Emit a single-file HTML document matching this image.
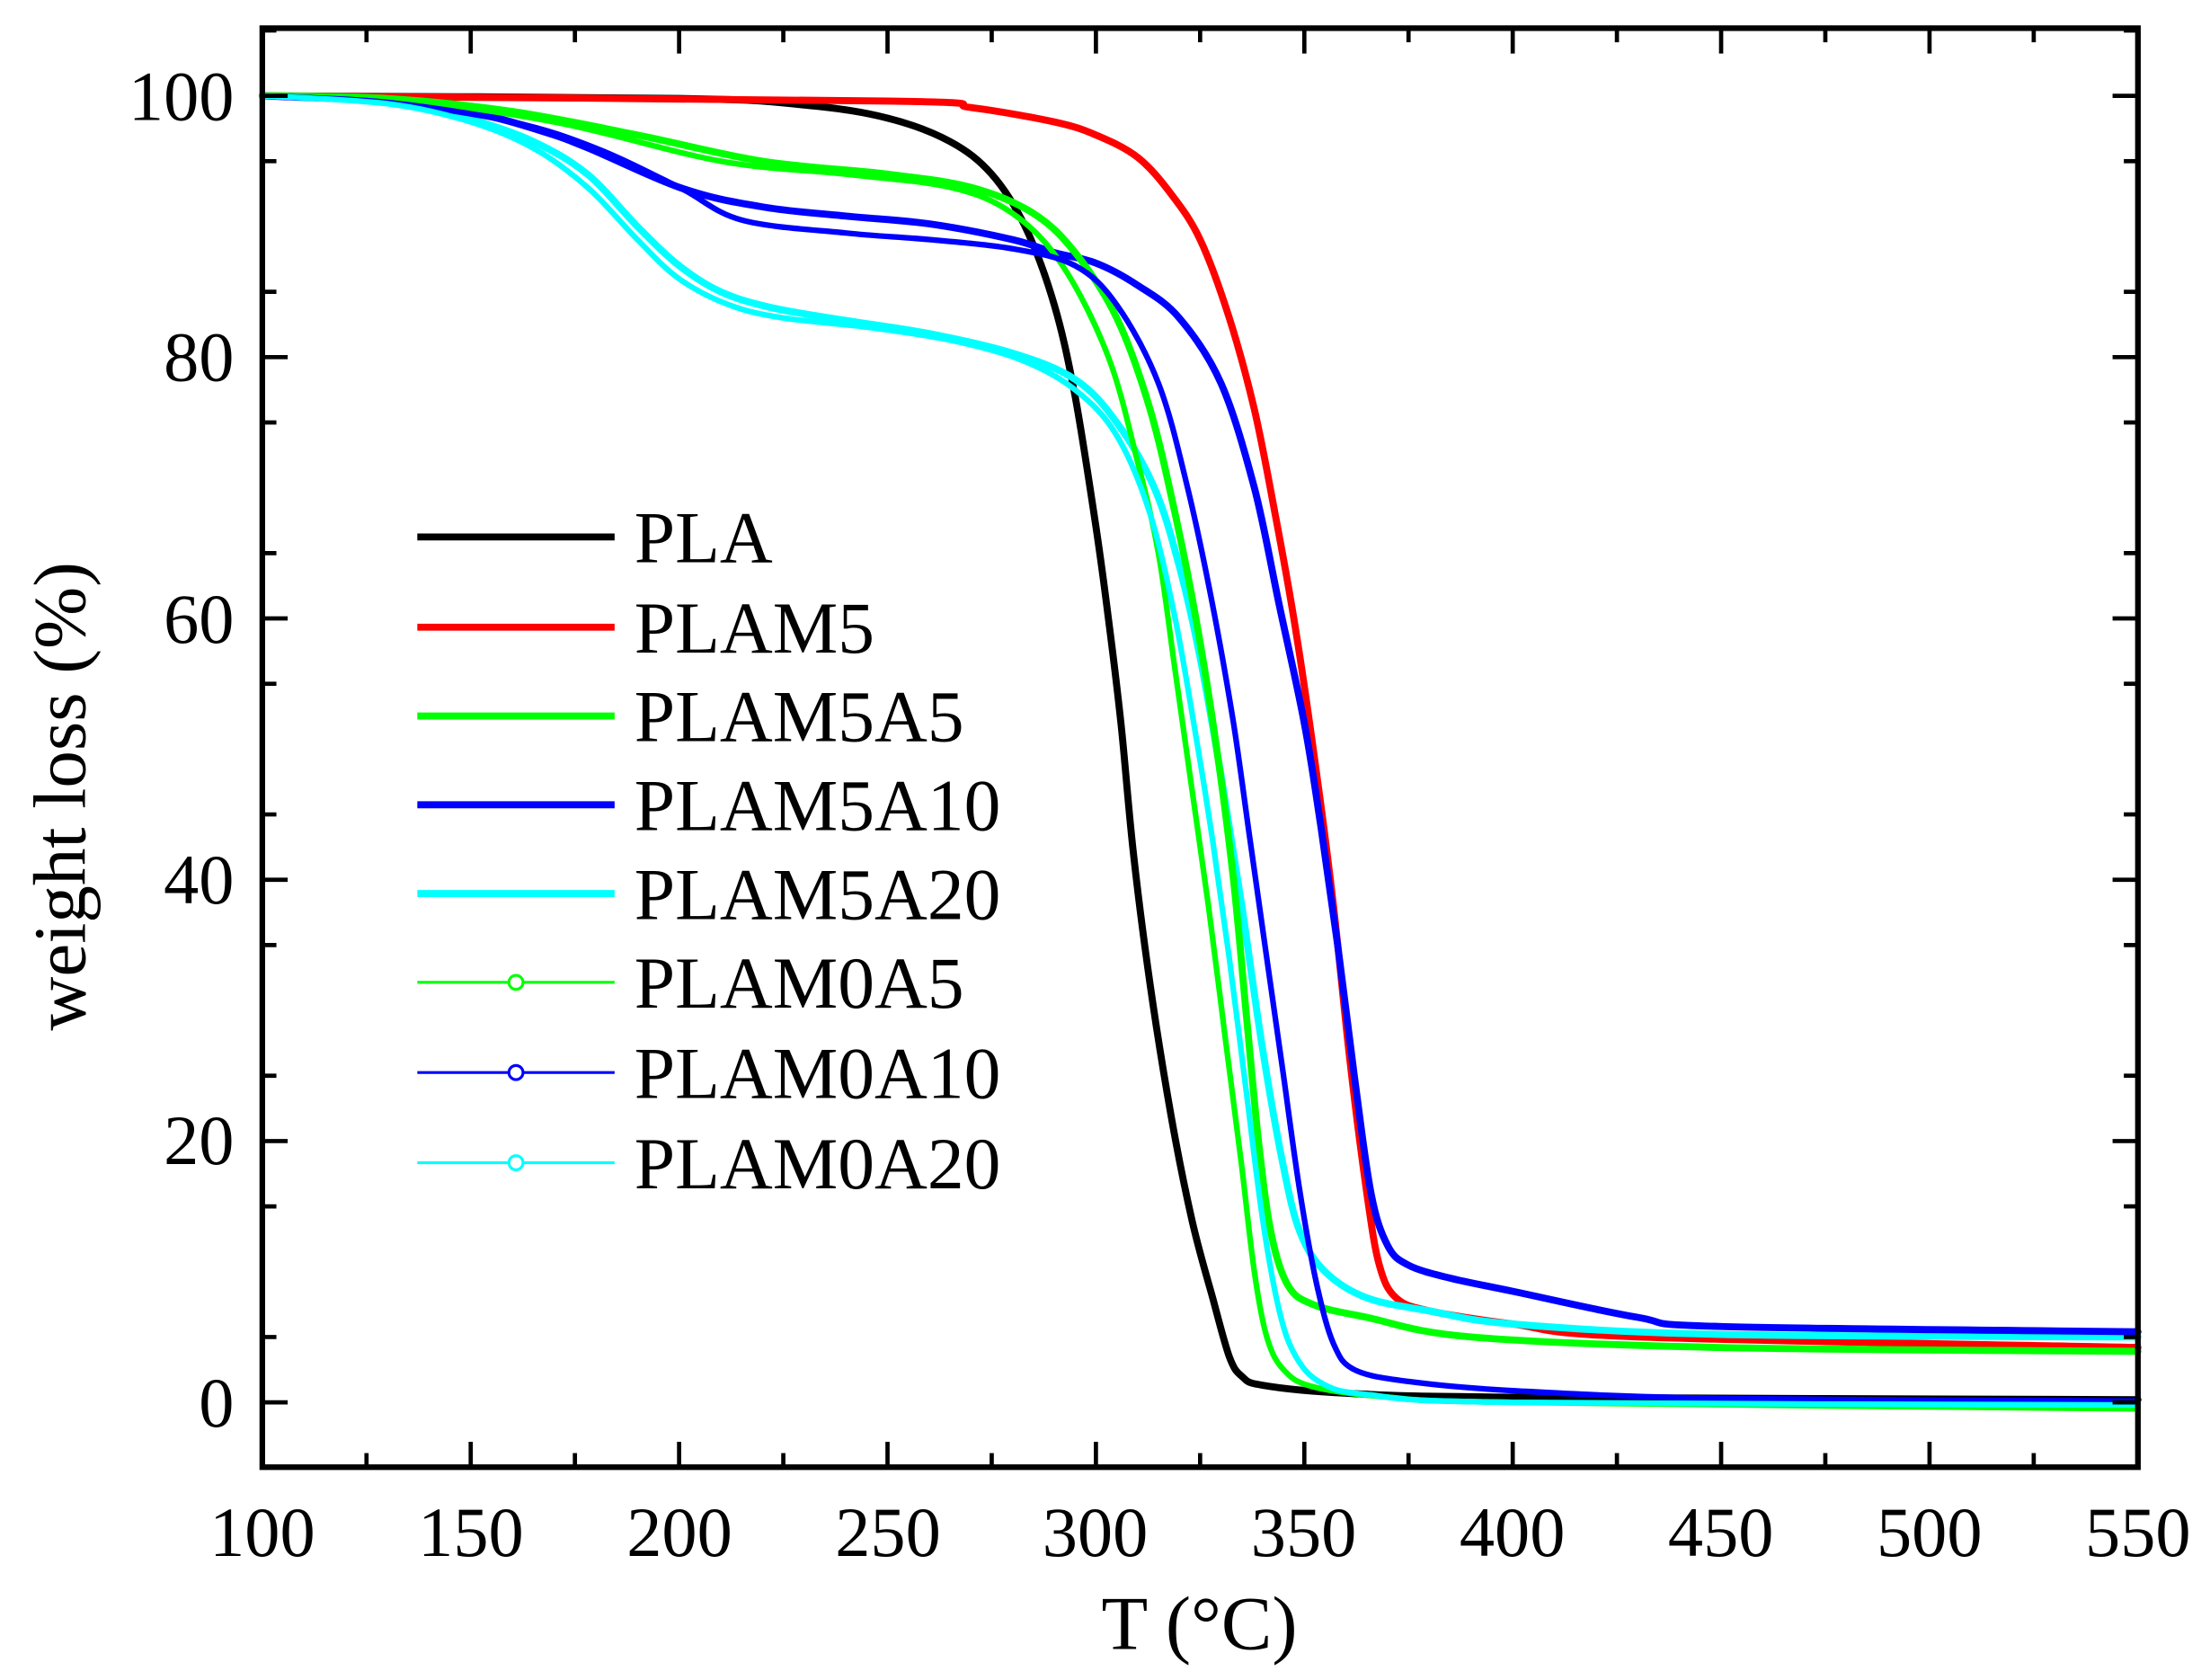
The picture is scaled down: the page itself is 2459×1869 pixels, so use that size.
<!DOCTYPE html>
<html><head><meta charset="utf-8"><style>
html,body{margin:0;padding:0;background:#fff}
svg{display:block}
text{font-family:"Liberation Serif",serif;fill:#000}
</style></head><body>
<svg id="s" width="2459" height="1869" viewBox="0 0 1568 1192" xmlns="http://www.w3.org/2000/svg">
<g id="curves" fill="none" stroke-linejoin="round" stroke-linecap="round"></g>
<rect x="186" y="20" width="1331" height="1021" fill="none" stroke="#000" stroke-width="4"/>
<g id="ticks" stroke="#000" stroke-width="3"></g>
<g font-size="50" text-anchor="middle">
<text x="186" y="1104">100</text><text x="334" y="1104">150</text><text x="482" y="1104">200</text>
<text x="630" y="1104">250</text><text x="777" y="1104">300</text><text x="925" y="1104">350</text>
<text x="1073" y="1104">400</text><text x="1221" y="1104">450</text><text x="1369" y="1104">500</text>
<text x="1517" y="1104">550</text>
</g>
<g font-size="50" text-anchor="end">
<text x="166" y="85">100</text><text x="166" y="270">80</text><text x="166" y="456">60</text>
<text x="166" y="641">40</text><text x="166" y="826">20</text><text x="166" y="1012">0</text>
</g>
<text x="851" y="1170" font-size="54" text-anchor="middle">T (°C)</text>
<text transform="translate(60,565) rotate(-90)" font-size="53" text-anchor="middle">weight loss (%)</text>
<g stroke-width="5">
<line x1="296" y1="381" x2="436" y2="381" stroke="#000"/>
<line x1="296" y1="445" x2="436" y2="445" stroke="#ff0000"/>
<line x1="296" y1="508" x2="436" y2="508" stroke="#00ff00"/>
<line x1="296" y1="571" x2="436" y2="571" stroke="#0000ff"/>
<line x1="296" y1="634" x2="436" y2="634" stroke="#00ffff"/>
</g>
<g stroke-width="2" fill="#fff">
<line x1="296" y1="697" x2="436" y2="697" stroke="#00ff00"/><circle cx="366" cy="697" r="5" stroke="#00ff00"/>
<line x1="296" y1="761" x2="436" y2="761" stroke="#0000ff"/><circle cx="366" cy="761" r="5" stroke="#0000ff"/>
<line x1="296" y1="825" x2="436" y2="825" stroke="#00ffff"/><circle cx="366" cy="825" r="5" stroke="#00ffff"/>
</g>
<g font-size="52">
<text x="450" y="399">PLA</text><text x="450" y="463">PLAM5</text><text x="450" y="526">PLAM5A5</text>
<text x="450" y="589">PLAM5A10</text><text x="450" y="652">PLAM5A20</text><text x="450" y="715">PLAM0A5</text>
<text x="450" y="779">PLAM0A10</text><text x="450" y="843">PLAM0A20</text>
</g>
</svg>
<script>
var NS="http://www.w3.org/2000/svg";
function X(t){return 186+(t-100)*1331/450}
function Y(w){return 995-w*9.27}
var tk=document.getElementById("ticks");
function L(a,b,c,d){var l=document.createElementNS(NS,"line");l.setAttribute("x1",a);l.setAttribute("y1",b);l.setAttribute("x2",c);l.setAttribute("y2",d);tk.appendChild(l);}
for(var t=100;t<=550;t+=25){var m=(t%50==0)?18:10;L(X(t),1041,X(t),1041-m);L(X(t),20,X(t),20+m);}
for(var w=-5;w<=105;w+=10){var yy=Y(w);if(yy<20||yy>1041)continue;L(186,yy,196,yy);L(1517,yy,1507,yy);}
for(var w=0;w<=100;w+=20){var yy=Y(w);L(186,yy,204,yy);L(1517,yy,1499,yy);}
var series=[
["#000",5,[[100,100],[200,99.8],[230,99.3],[250,98.3],[265,96.5],[275,94],[283,90],[290,84],[295,77],[300,67],[303,60],[306,52],[309,42],[313,32],[318,22],[323,14],[328,8],[332,3.5],[335,2],[340,1.3],[360,0.7],[400,0.4],[550,0.2]]],
["#ff0000",5,[[100,100],[250,99.6],[270,99.1],[290,98],[300,97],[310,95.3],[318,92.5],[325,89],[332,83],[338,76],[343,68],[348,59],[353,48],[357,38],[361,26],[365,16],[368,10.5],[372,8],[380,7],[400,6],[430,5],[550,4.2]]],
["#00ffff",5,[[100,100],[130,99.6],[150,98.2],[165,96.5],[178,94],[190,90],[200,87],[210,85],[222,83.8],[240,82.8],[260,81.8],[280,80.3],[295,78.3],[305,75],[314,70],[320,64],[325,57],[330,48],[335,38],[340,27],[345,18],[349,13],[355,10],[365,8],[380,7],[400,6],[450,5.2],[550,5]]],
["#0000ff",5,[[100,100],[140,99.3],[170,97],[200,93],[220,91.5],[240,90.8],[260,90.2],[280,89],[290,88],[300,87.2],[310,85.5],[320,83],[330,78],[338,70],[344,61],[350,52],[354,44],[358,35],[362,25],[366,16],[370,12],[375,10.5],[385,9.5],[400,8.5],[430,6.5],[450,5.8],[550,5.4]]],
["#00ff00",5,[[100,100],[130,99.8],[160,98.8],[190,97],[220,95],[250,94],[270,93],[285,91],[295,88],[305,83],[313,76],[319,68],[324,60],[329,50],[333,40],[336,30],[339,20],[342,13],[346,9],[352,7.5],[365,6.5],[390,5],[450,4.2],[550,3.9]]],
["#00ff00",4,[[100,100],[130,99.8],[170,98],[210,95],[240,94],[265,93],[280,91],[292,87],[303,80],[310,72],[315,65],[319,56],[323,47],[327,38],[331,28],[335,18],[338,10],[341,5],[345,2.5],[352,1.2],[370,0.4],[400,0],[550,-0.5]]],
["#0000ff",4,[[100,100],[130,99.5],[160,98],[180,96],[200,93],[215,90.5],[240,89.5],[260,89],[280,88.3],[295,87],[305,84],[315,78],[322,70],[328,61],[333,52],[337,43],[341,34],[345,25],[349,16],[353,9],[357,4.5],[362,2.5],[375,1.6],[400,0.9],[450,0.3],[550,0.1]]],
["#00ffff",4,[[100,100],[130,99.4],[150,98],[165,96],[178,93],[190,89],[200,86],[212,84],[225,83],[245,82.3],[265,81.3],[282,79.8],[295,77.5],[305,74],[313,68],[319,60],[324,51],[328,43],[332,34],[336,24],[340,14],[344,7],[348,3.5],[354,1.5],[365,0.6],[400,0],[550,-0.2]]]
];
var g=document.getElementById("curves");
function cr(pts){var P=pts.map(function(q){return [X(q[0]),Y(q[1])]});
var d="M"+P[0][0].toFixed(1)+","+P[0][1].toFixed(1);
for(var i=0;i<P.length-1;i++){var p0=P[i-1]||P[i],p1=P[i],p2=P[i+1],p3=P[i+2]||P[i+1];
var c1=[p1[0]+(p2[0]-p0[0])/6,p1[1]+(p2[1]-p0[1])/6],c2=[p2[0]-(p3[0]-p1[0])/6,p2[1]-(p3[1]-p1[1])/6];
d+=" C"+c1[0].toFixed(1)+","+c1[1].toFixed(1)+" "+c2[0].toFixed(1)+","+c2[1].toFixed(1)+" "+p2[0].toFixed(1)+","+p2[1].toFixed(1);}
return d;}
series.forEach(function(s){var p=document.createElementNS(NS,"path");
p.setAttribute("d",cr(s[2]));p.setAttribute("stroke",s[0]);p.setAttribute("stroke-width",s[1]);g.appendChild(p);});
</script>
</body></html>
